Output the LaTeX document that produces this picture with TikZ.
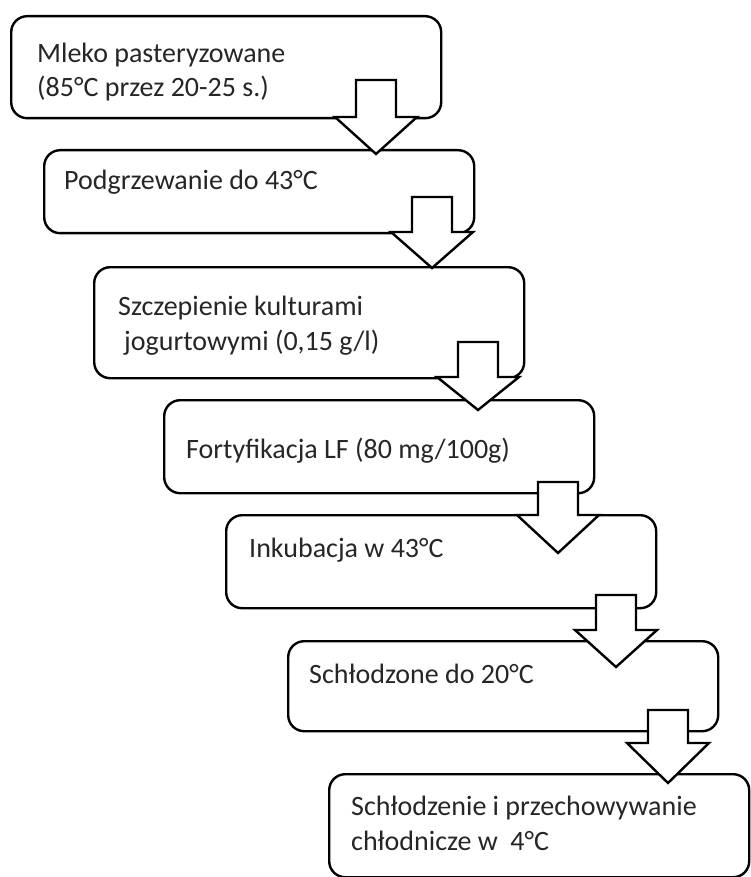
\documentclass[tikz,border=0pt]{standalone}
\usepackage{fontspec}
\setmainfont{Carlito}
\definecolor{txtgray}{HTML}{262626}
\begin{document}
\begin{tikzpicture}[x=1pt,y=-1pt,
  procbox/.style={draw=black, line width=2.4pt, rounded corners=16pt, fill=white,
    anchor=north west, inner sep=0pt, minimum width=430pt},
  proctext/.style={anchor=base west, inner sep=0pt, align=left, text=txtgray,
    font=\fontsize{28}{34.5}\selectfont},
  blockarrow/.style={draw=black, line width=2.4pt, fill=white, line join=miter}
]
\useasboundingbox (0,0) rectangle (750,877);
% boxes
\node[procbox, minimum height=102pt] (b1) at (10,15) {};
\node[procbox, minimum height=83pt]  (b2) at (43,149) {};
\node[procbox, minimum height=111pt] (b3) at (93,266) {};
\node[procbox, minimum height=93pt]  (b4) at (163,399) {};
\node[procbox, minimum height=93pt]  (b5) at (225,514) {};
\node[procbox, minimum height=90pt]  (b6) at (287,640) {};
\node[procbox, minimum height=103pt, minimum width=420pt] (b7) at (328,773) {};
% texts (base anchor = baseline of the last line)
\node[proctext] (t1) at (37,97) {Mleko pasteryzowane\\(85°C przez 20-25 s.)};
\node[proctext] (t2) at (64,190) {Podgrzewanie do 43°C};
\node[proctext] (t3) at (118,350) {Szczepienie kulturami\\\hspace*{6pt}jogurtowymi (0,15 g/l)};
\node[proctext] (t4) at (186,458) {Fortyfikacja LF (80 mg/100g)};
\node[proctext] (t5) at (249,557) {Inkubacja w 43°C};
\node[proctext] (t6) at (309,683) {Schłodzone do 20°C};
\node[proctext] (t7) at (351,850) {Schłodzenie i przechowywanie\\chłodnicze w\ \ 4°C};
% block arrows: (center x, shaft top, head base, tip)
\newcommand\mybarrow[4]{%
  \draw[blockarrow] (#1-20,#2) -- (#1+20,#2) -- (#1+20,#3) -- (#1+41,#3)
    -- (#1,#4) -- (#1-41,#3) -- (#1-20,#3) -- cycle;}
\mybarrow{376}{80}{117}{154}
\mybarrow{432}{197}{232}{268}
\mybarrow{478}{342}{377}{410}
\mybarrow{558}{482}{515}{553}
\mybarrow{616}{595}{630}{667}
\mybarrow{668}{710}{743}{783}
\end{tikzpicture}
\end{document}
